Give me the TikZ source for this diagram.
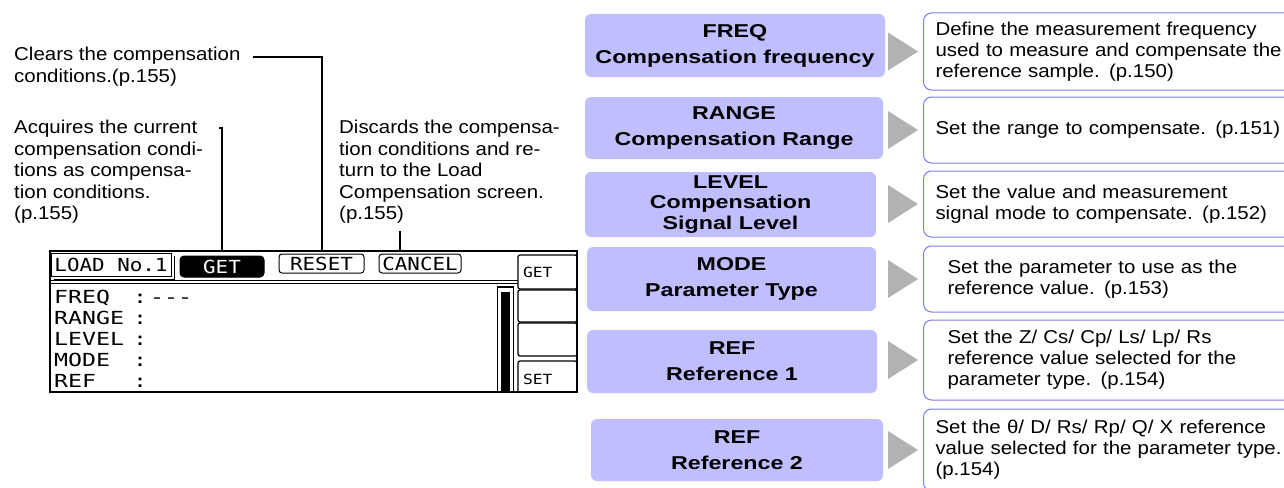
\documentclass[tikz,border=0pt]{standalone}
\usepackage{fontspec}
\setmainfont[FakeStretch=1.1]{Liberation Sans}
\newfontfamily\keyfont[FakeStretch=1.25]{Liberation Sans}
\newfontfamily\lcdfont[FakeStretch=1.29]{DejaVu Sans Mono}
\newfontfamily\lcdhead[FakeStretch=1.16]{DejaVu Sans Mono}
\usetikzlibrary{positioning,calc}
\definecolor{keyfill}{RGB}{191,191,255}
\definecolor{descline}{RGB}{125,125,240}
\definecolor{trigray}{RGB}{178,178,178}

\begin{document}
\begin{tikzpicture}[x=1pt,y=-1pt,
    every node/.style={font=\fontsize{18.6}{21}\selectfont},
    note/.style={anchor=north west,align=left,inner sep=0pt,font=\fontsize{18.6}{21.5}\selectfont},
    lead/.style={draw=black,line width=2pt},
    key/.style={fill=keyfill,rounded corners=6pt,align=center,inner sep=0pt,minimum height=63pt,font=\keyfont\bfseries\fontsize{18.6}{26}\selectfont},
    desc/.style={draw=descline,line width=1pt,fill=white,rounded corners=8pt,anchor=west,align=left,text width=400pt,inner xsep=12pt,inner ysep=0pt},
    tri/.style={fill=trigray},
    lcdtxt/.style={anchor=base west,inner sep=0pt,font=\lcdfont\fontsize{18}{21}\selectfont},
    btn/.style={draw,line width=1pt,rounded corners=3pt,inner sep=0pt,minimum height=19pt,font=\lcdhead\fontsize{18}{20}\selectfont},
    soft/.style={draw,line width=1.2pt,rounded corners=2pt,minimum width=59pt,text width=49pt,align=left,inner xsep=5pt,inner ysep=0pt,font=\lcdhead\fontsize{14}{16}\selectfont}
  ]
  \useasboundingbox (0,0) rectangle (1284,487);
  % explanations of the three buttons
  \node[note] (clr) at (14,47) {Clears the compensation\\conditions.(p.155)};
  \node[note] (acq) at (14,120) {Acquires the current\\compensation condi-\\tions as compensa-\\tion conditions.\\(p.155)};
  \node[note] (dsc) at (339,120) {Discards the compensa-\\tion conditions and re-\\turn to the Load\\Compensation screen.\\(p.155)};
  % screen
  \node[draw,line width=2pt,minimum width=527pt,minimum height=141pt,inner sep=0pt] (lcd) at (313.5,321.5) {};
  \begin{scope}
    \clip (50,251) rectangle (577,391);
    \node[btn,rounded corners=0pt,minimum width=120pt,minimum height=23pt] (load) at (111,264.5) {LOAD No.1};
    \draw[line width=1pt] ([xshift=3pt,yshift=-3pt]load.north east) |- ([xshift=3pt,yshift=-3pt]load.south west);
    \node[btn,fill=black,text=white,minimum width=84pt,minimum height=21pt,rounded corners=4pt] (get) at (222,266.5) {GET};
    \node[btn,minimum width=85pt] (reset) at (321.5,263.5) {RESET};
    \node[btn,minimum width=82pt] (cancel) at (420,263.5) {CANCEL};
    \draw[line width=1pt] (50,280) -- (518,280);
    \draw[line width=1pt] (50,283.5) -- (518,283.5);
    % parameter rows
    \foreach \t/\yy in {FREQ/303,RANGE/324.5,LEVEL/345.5,MODE/366.5,REF/387.5}{
      \node[lcdtxt] (row\t) at (54,\yy) {\t};
      \node[lcdtxt] (col\t) at (133,\yy) {:};
    }
    \node[lcdtxt] (fqval) at (150,303) {-\kern0pt-\kern0pt-};
    % bar and soft keys
    \node[draw,line width=1.2pt,minimum width=16pt,minimum height=110pt,inner sep=0pt] (bar) at (505.5,342) {};
    \node[fill,minimum width=9pt,minimum height=104pt,inner sep=0pt] (barfill) at (505.5,344) {};
    \node[soft,minimum height=34pt] (kget) at (547.5,272) {GET};
    \node[soft,minimum height=32pt] (kb1) at (547.5,306) {};
    \node[soft,minimum height=33pt] (kb2) at (547.5,339.5) {};
    \node[soft,minimum height=36pt] (kset) at (547.5,379) {SET};
  \end{scope}
  % leader lines
  \coordinate (clrA) at (253,57);
  \coordinate (acqA) at (219,128);
  \coordinate (dscA) at (400,231);
  \draw[lead] (clrA) -| (reset.north |- lcd.north);
  \draw[lead] (acqA) -| (get.north |- lcd.north);
  \draw[lead] (dscA) -- (dscA |- lcd.north);
  % parameter keys
  \node[key,minimum width=300pt] (freq) at (735,45.5) {FREQ\\Compensation frequency};
  \node[key,minimum width=298pt,minimum height=62pt] (range) at (734,128) {RANGE\\Compensation Range};
  \node[key,minimum width=291pt,minimum height=65pt,font=\keyfont\bfseries\fontsize{18.6}{20.5}\selectfont] (level) at (730.5,204.5) {LEVEL\\Compensation\\Signal Level};
  \node[key,minimum width=289pt,minimum height=64pt] (mode) at (731.5,279) {MODE\\Parameter Type};
  \node[key,minimum width=290pt] (ref1) at (732,361.5) {REF\\Reference 1};
  \node[key,minimum width=292pt,minimum height=62pt] (ref2) at (737,450) {REF\\Reference 2};
  % descriptions
  \node[desc,minimum height=77pt] (d1) at (923,51.5) {Define the measurement frequency\\used to measure and compensate the\\reference sample. (p.150)};
  \node[desc,minimum height=66pt] (d2) at (923,130) {Set the range to compensate. (p.151)};
  \node[desc,minimum height=66pt] (d3) at (923,204) {Set the value and measurement\\signal mode to compensate. (p.152)};
  \node[desc,minimum height=66pt,inner xsep=24pt] (d4) at (923,279) {Set the parameter to use as the\\reference value. (p.153)};
  \node[desc,minimum height=80pt,inner xsep=24pt] (d5) at (923,360) {Set the Z/ Cs/ Cp/ Ls/ Lp/ Rs\\reference value selected for the\\parameter type. (p.154)};
  \node[desc,minimum height=82pt] (d6) at (923,450) {Set the θ/ D/ Rs/ Rp/ Q/ X reference\\value selected for the parameter type.\\(p.154)};
  \foreach \dd in {d1,d2,d3,d4,d5,d6}
    \fill[tri] ($(\dd.west)+(-35,-19)$) -- ($(\dd.west)+(-5,0)$) -- ($(\dd.west)+(-35,19)$) -- cycle;
\end{tikzpicture}
\end{document}
